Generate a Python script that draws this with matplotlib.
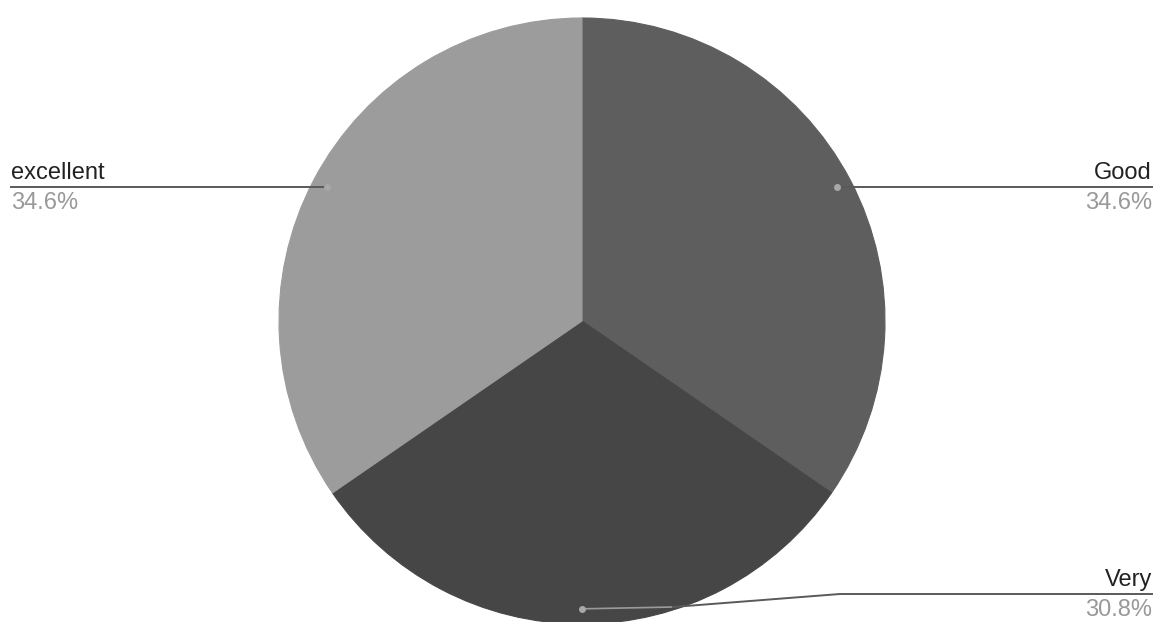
import numpy as np
import matplotlib.pyplot as plt

plt.rcParams['font.family'] = ['Liberation Sans', 'DejaVu Sans']

labels = ['Good', 'Very', 'excellent']
shares = [34.6, 30.8, 34.6]
colors = ['#5e5e5e', '#464646', '#9c9c9c']

W, H = 1156, 622
fig = plt.figure(figsize=(W / 100, H / 100), dpi=100)
ax = fig.add_axes([0, 0, 1, 1])

cx, cy, r = 582, H - 321, 303
wedges, _ = ax.pie(shares, colors=colors, startangle=90, counterclock=False,
                   center=(cx, cy), radius=r, frame=True)
for w, c in zip(wedges, colors):
    w.set_edgecolor(c)
    w.set_linewidth(0.8)
ax.set_xlim(0, W)
ax.set_ylim(0, H)
ax.set_aspect('equal')
ax.axis('off')

line_c = '#5a5a5a'
for w, lab, val in zip(wedges, labels, shares):
    mid = np.deg2rad((w.theta1 + w.theta2) / 2)
    dx, dy = cx + 0.95 * r * np.cos(mid), cy + 0.95 * r * np.sin(mid)
    ax.plot(dx, dy, 'o', ms=4, color='#a8a8a8', zorder=5)
    if lab == 'Very':
        ex = [dx, 673, 840, 1152]
        ey = [dy, H - 607, H - 594, H - 594]
        ax.plot(ex[:2], ey[:2], color='#9a9a9a', lw=1.2, zorder=4)
        ax.plot(ex[1:], ey[1:], color=line_c, lw=1.4, zorder=4)
        tx, ha, ly = 1152, 'right', ey[-1]
    elif np.cos(mid) > 0:
        ax.plot([dx, 1152], [dy, dy], color=line_c, lw=1.4, zorder=4)
        tx, ha, ly = 1152, 'right', dy
    else:
        ax.plot([11, dx], [dy, dy], color=line_c, lw=1.4, zorder=4)
        tx, ha, ly = 11, 'left', dy
    ax.text(tx, ly + 8, lab, ha=ha, va='baseline', fontsize=17, color='#222222')
    ax.text(tx, ly - 5, f'{val}%', ha=ha, va='top', fontsize=17, color='#999999')

fig.savefig('out.png', dpi=100, facecolor='white')
